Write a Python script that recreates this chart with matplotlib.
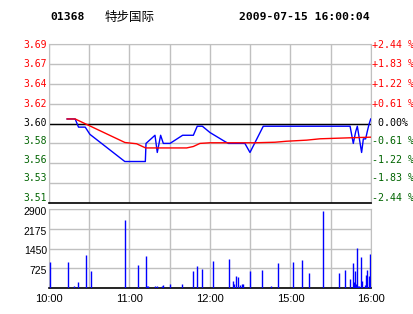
import numpy as np
import matplotlib
matplotlib.use('Agg')
import matplotlib.pyplot as plt
from matplotlib.transforms import ScaledTranslation

# minutes since 10:00 on a compressed trading axis (10:00-12:30, 14:30-16:00)
price_min = [13.5, 19.5, 22, 27, 30.5, 56.5, 71.8, 72.3, 79, 80.7, 83.2, 85.2,
             90.2, 99.6, 107.6, 110.5, 114.3, 120, 131.2, 133.7, 146, 149.8,
             159.7, 224.4, 226.8, 228.6, 229.8, 233, 234.3, 236, 237.2, 238.5,
             239.8]
price = [3.605, 3.605, 3.596, 3.596, 3.588, 3.558, 3.558, 3.578, 3.587, 3.568,
         3.587, 3.578, 3.578, 3.587, 3.587, 3.597, 3.597, 3.590, 3.580, 3.578,
         3.578, 3.568, 3.597, 3.597, 3.578, 3.591, 3.597, 3.568, 3.583, 3.583,
         3.591, 3.599, 3.605]

avg_min = [13.5, 19.5, 56.6, 65.3, 72, 102.6, 107.6, 112.5, 120, 153.5,
           168.4, 177, 192, 202, 224.3, 240]
avg = [3.605, 3.605, 3.579, 3.5776, 3.573, 3.573, 3.5746, 3.578, 3.5787,
       3.5787, 3.5793, 3.5804, 3.5816, 3.5831, 3.5842, 3.5849]

vol_min = [0.75, 13.9, 18.9, 21.9, 27.3, 31.5, 56.9, 66.6, 72, 72.8, 73.6,
           79.2, 80.5, 84, 85.2, 90.4, 99.4, 107.6, 110.5, 114.3, 122.5, 134.4,
           137.4, 138.1, 139.1, 141.1, 142.1, 143.6, 144.8, 150, 159, 165.7,
           170.9, 182.1, 188.8, 194, 204.4, 216.4, 220.8, 224.6, 226.8, 227.6,
           228.3, 229.1, 229.8, 230.6, 231.3, 232.8, 233.6, 235.8, 236.6, 237.3,
           238.8, 239.6]
vol = [940, 940, 85, 232, 1223, 612, 2507, 856, 1187, 85, 85,
       85, 85, 85, 120, 160, 160, 612, 820, 710, 1003, 1076,
       245, 160, 452, 416, 120, 160, 160, 636, 673, 85,
       930, 966, 1040, 563, 2838, 563, 673, 342, 930, 232,
       636, 160, 1468, 85, 85, 1150, 270, 120, 490, 673,
       452, 1260]

prev_close = 3.60
pct_steps = [4, 3, 2, 1, 0, -1, -2, -3, -4]
price_labels = ['3.69', '3.67', '3.64', '3.62', '3.60', '3.58', '3.56', '3.53', '3.51']
pct_labels = ['+2.44 %', '+1.83 %', '+1.22 %', '+0.61 %', ' 0.00%',
              '-0.61 %', '-1.22 %', '-1.83 %', '-2.44 %']
vol_ticks = [725, 1450, 2175, 2900]
vol_labels = ['725', '1450', '2175', '2900']
time_labels = ['10:00', '', '11:00', '', '12:00', '', '15:00', '', '16:00']

W, H = 414, 314
fig = plt.figure(figsize=(W / 100, H / 100), dpi=100)
fig.patch.set_facecolor('white')

def box(x0, y0, x1, y1):
    return [x0 / W, 1 - y1 / H, (x1 - x0) / W, (y1 - y0) / H]

def px(dx, dy):
    # dx right, dy down, in pixels
    return ScaledTranslation(dx / 100, -dy / 100, fig.dpi_scale_trans)

grid_c = '#c0c0c0'
mono = 'DejaVu Sans Mono'
label_shift = [1, 0, 0, 0, 0, -2, -3, -5, -5]

ax = fig.add_axes(box(49, 44, 371, 203))
levels = [prev_close * (1 + 0.0061 * k) for k in pct_steps]
ax.set_xlim(0, 240)
ax.set_ylim(levels[-1], levels[0])
ax.set_xticks(np.arange(0, 241, 30))
ax.set_xticklabels([])
ax.set_yticks(levels)
ax.set_yticklabels([])
ax.tick_params(length=0)
ax.grid(True, color=grid_c, lw=1)
ax.axhline(prev_close, color='black', lw=1, zorder=2)
ax.plot(price_min, price, color='blue', lw=1, zorder=3)
ax.plot(avg_min, avg, color='red', lw=1, zorder=4)
for s in ['left', 'top', 'right']:
    ax.spines[s].set_color(grid_c)
ax.spines['bottom'].set_color('black')
ax.spines['bottom'].set_linewidth(1.2)

ytr = ax.get_yaxis_transform()
for lv, k, lab, plab, sh in zip(levels, pct_steps, price_labels, pct_labels, label_shift):
    col = 'red' if k > 0 else ('black' if k == 0 else '#006400')
    ax.text(0, lv, lab, transform=ytr + px(-2, sh), ha='right', va='center',
            fontfamily=mono, fontsize=7, color=col, clip_on=False)
    ax.text(1, lv, plab, transform=ytr + px(1, sh), ha='left', va='center',
            fontfamily=mono, fontsize=7.2, color=col, clip_on=False)

axv = fig.add_axes(box(49, 209, 371, 288))
axv.set_xlim(0, 240)
axv.set_ylim(0, 2900)
axv.vlines(vol_min, 0, vol, color='blue', lw=1, zorder=3)
axv.set_xticks(np.arange(0, 241, 30))
axv.set_xticklabels(time_labels, fontfamily='Liberation Sans', fontsize=8)
axv.set_yticks([0] + vol_ticks)
axv.set_yticklabels([])
axv.tick_params(length=0)
axv.tick_params(axis='x', pad=4)
axv.grid(True, color=grid_c, lw=1)
for s in ['left', 'top', 'right']:
    axv.spines[s].set_color(grid_c)
axv.spines['bottom'].set_color('black')
axv.spines['bottom'].set_linewidth(1.2)

vtr = axv.get_yaxis_transform()
for v, lab in zip(vol_ticks, vol_labels):
    axv.text(0, v, lab, transform=vtr + px(-2, 3), ha='right', va='center',
             fontfamily='Liberation Sans', fontsize=7.5, clip_on=False)

fig.text(50 / W, 1 - 17 / H, '01368', fontfamily=mono, fontweight='bold',
         fontsize=8.2, va='center', ha='left')
fig.text(105 / W, 1 - 17 / H, '特步国际', fontfamily=['Noto Sans CJK SC', 'DejaVu Sans'],
         fontsize=9, va='center', ha='left')
fig.text(370 / W, 1 - 17 / H, '2009-07-15 16:00:04', fontfamily=mono,
         fontweight='bold', fontsize=8.2, va='center', ha='right')

fig.savefig('out.png', dpi=100)
